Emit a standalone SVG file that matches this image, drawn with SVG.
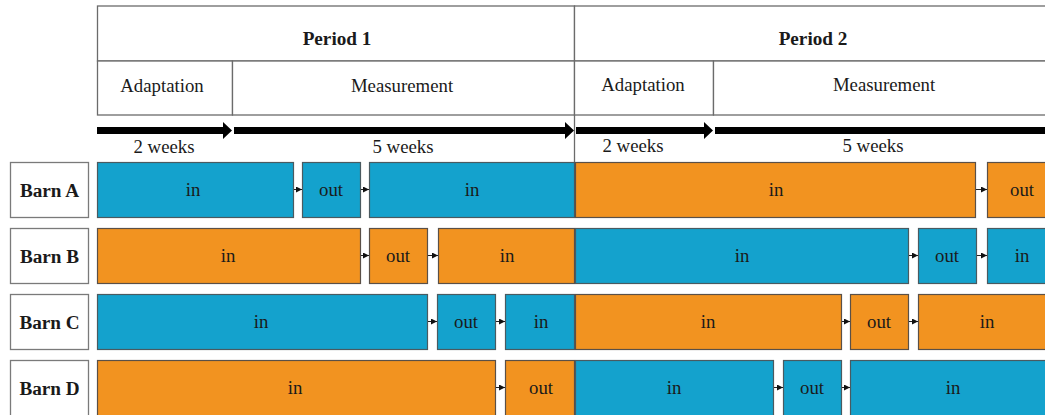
<svg xmlns="http://www.w3.org/2000/svg" width="1045" height="415" viewBox="0 0 1045 415" font-family="Liberation Serif, Times New Roman, DejaVu Serif, serif">
<defs>
<style>
.hdr{fill:#fff;stroke:#6b6b6b;stroke-width:1.3}
.lbl{fill:#fff;stroke:#7a7a7a;stroke-width:1.3}
.b{fill:#14A2CD;stroke:#4a5a60;stroke-width:1.2}
.o{fill:#F29320;stroke:#5a5048;stroke-width:1.2}
.t{font-family:'Liberation Serif','Times New Roman','DejaVu Serif',serif;font-size:18.8px;fill:#1a1a1a;text-anchor:middle}
.tb{font-family:'Liberation Serif','Times New Roman','DejaVu Serif',serif;font-size:19.2px;font-weight:bold;fill:#1a1a1a;text-anchor:middle}
.big{fill:#000}
.sm{stroke:#222;stroke-width:1;fill:none;marker-end:url(#ah)}
</style>
<marker id="ah" viewBox="0 0 6 6" refX="6" refY="3" markerWidth="6" markerHeight="6" markerUnits="userSpaceOnUse" orient="auto">
<path d="M0,0 L6,3 L0,6 Z" fill="#111"/>
</marker>
</defs>
<rect width="1045" height="415" fill="#fff"/>
<g id="header">
<rect class="hdr" x="97.5" y="6" width="477" height="55"/>
<rect class="hdr" x="574.5" y="6" width="480" height="55"/>
<rect class="hdr" x="97.5" y="61" width="135" height="54"/>
<rect class="hdr" x="232.5" y="61" width="342" height="54"/>
<rect class="hdr" x="574.5" y="61" width="139" height="54"/>
<rect class="hdr" x="713.5" y="61" width="340" height="54"/>
<line x1="574.5" y1="115" x2="574.5" y2="162" stroke="#6b6b6b" stroke-width="1.3"/>
<text class="tb" x="337" y="45">Period 1</text>
<text class="tb" x="813" y="45">Period 2</text>
<text class="t" x="162" y="92">Adaptation</text>
<text class="t" x="402" y="92">Measurement</text>
<text class="t" x="643" y="91">Adaptation</text>
<text class="t" x="884" y="91">Measurement</text>
</g>
<g id="timeline">
<path class="big" d="M97,127 H223 V122 L232,130.5 L223,139 V134 H97 Z"/>
<path class="big" d="M234,127 H565 V122 L574,130.5 L565,139 V134 H234 Z"/>
<path class="big" d="M576,127 H704 V122 L713,130.5 L704,139 V134 H576 Z"/>
<path class="big" d="M715,127 H1045 V134 H715 Z"/>
<text class="t" x="164" y="153">2 weeks</text>
<text class="t" x="403" y="153">5 weeks</text>
<text class="t" x="633" y="152">2 weeks</text>
<text class="t" x="873" y="152">5 weeks</text>
</g>
<g id="barnA">
<rect class="lbl" x="10.5" y="162.5" width="78" height="55"/>
<text class="tb" x="49.5" y="196.5">Barn A</text>
<rect class="b" x="97.5" y="162.5" width="196" height="55"/><text class="t" x="193" y="195.5">in</text>
<rect class="b" x="302.5" y="162.5" width="58" height="55"/><text class="t" x="331" y="195.5">out</text>
<rect class="b" x="369.5" y="162.5" width="205" height="55"/><text class="t" x="472" y="195.5">in</text>
<rect class="o" x="575.5" y="162.5" width="400" height="55"/><text class="t" x="776" y="195.5">in</text>
<rect class="o" x="987.5" y="162.5" width="70" height="55"/><text class="t" x="1022" y="195.5">out</text>
</g>
<g id="barnB">
<rect class="lbl" x="10.5" y="228.5" width="78" height="55"/>
<text class="tb" x="49.5" y="262.5">Barn B</text>
<rect class="o" x="97.5" y="228.5" width="263" height="55"/><text class="t" x="228" y="261.5">in</text>
<rect class="o" x="369.5" y="228.5" width="58" height="55"/><text class="t" x="398" y="261.5">out</text>
<rect class="o" x="438.5" y="228.5" width="136" height="55"/><text class="t" x="507" y="261.5">in</text>
<rect class="b" x="575.5" y="228.5" width="333" height="55"/><text class="t" x="742" y="261.5">in</text>
<rect class="b" x="918.5" y="228.5" width="58" height="55"/><text class="t" x="947" y="261.5">out</text>
<rect class="b" x="987.5" y="228.5" width="70" height="55"/><text class="t" x="1022" y="261.5">in</text>
</g>
<g id="barnC">
<rect class="lbl" x="10.5" y="294.5" width="78" height="55"/>
<text class="tb" x="49.5" y="328.5">Barn C</text>
<rect class="b" x="97.5" y="294.5" width="330" height="55"/><text class="t" x="261" y="327.5">in</text>
<rect class="b" x="437.5" y="294.5" width="58" height="55"/><text class="t" x="466" y="327.5">out</text>
<rect class="b" x="505.5" y="294.5" width="69" height="55"/><text class="t" x="541" y="327.5">in</text>
<rect class="o" x="575.5" y="294.5" width="266" height="55"/><text class="t" x="708" y="327.5">in</text>
<rect class="o" x="850.5" y="294.5" width="58" height="55"/><text class="t" x="879" y="327.5">out</text>
<rect class="o" x="918.5" y="294.5" width="140" height="55"/><text class="t" x="987" y="327.5">in</text>
</g>
<g id="barnD">
<rect class="lbl" x="10.5" y="360.5" width="78" height="60"/>
<text class="tb" x="49.5" y="394.5">Barn D</text>
<rect class="o" x="97.5" y="360.5" width="398" height="60"/><text class="t" x="295" y="393.5">in</text>
<rect class="o" x="505.5" y="360.5" width="69" height="60"/><text class="t" x="541" y="393.5">out</text>
<rect class="b" x="575.5" y="360.5" width="198" height="60"/><text class="t" x="674" y="393.5">in</text>
<rect class="b" x="783.5" y="360.5" width="58" height="60"/><text class="t" x="812" y="393.5">out</text>
<rect class="b" x="850.5" y="360.5" width="210" height="60"/><text class="t" x="953" y="393.5">in</text>
</g>
<g id="connectors">
<line class="sm" x1="294" y1="189.5" x2="302" y2="189.5"/>
<line class="sm" x1="361" y1="189.5" x2="369" y2="189.5"/>
<line class="sm" x1="976" y1="189.5" x2="987" y2="189.5"/>
<line class="sm" x1="361" y1="255.5" x2="369" y2="255.5"/>
<line class="sm" x1="428" y1="255.5" x2="438" y2="255.5"/>
<line class="sm" x1="909" y1="255.5" x2="918" y2="255.5"/>
<line class="sm" x1="977" y1="255.5" x2="987" y2="255.5"/>
<line class="sm" x1="428" y1="321.5" x2="437" y2="321.5"/>
<line class="sm" x1="496" y1="321.5" x2="505" y2="321.5"/>
<line class="sm" x1="842" y1="321.5" x2="850" y2="321.5"/>
<line class="sm" x1="909" y1="321.5" x2="918" y2="321.5"/>
<line class="sm" x1="496" y1="387.5" x2="505" y2="387.5"/>
<line class="sm" x1="774" y1="387.5" x2="783" y2="387.5"/>
<line class="sm" x1="842" y1="387.5" x2="850" y2="387.5"/>
</g>
</svg>
